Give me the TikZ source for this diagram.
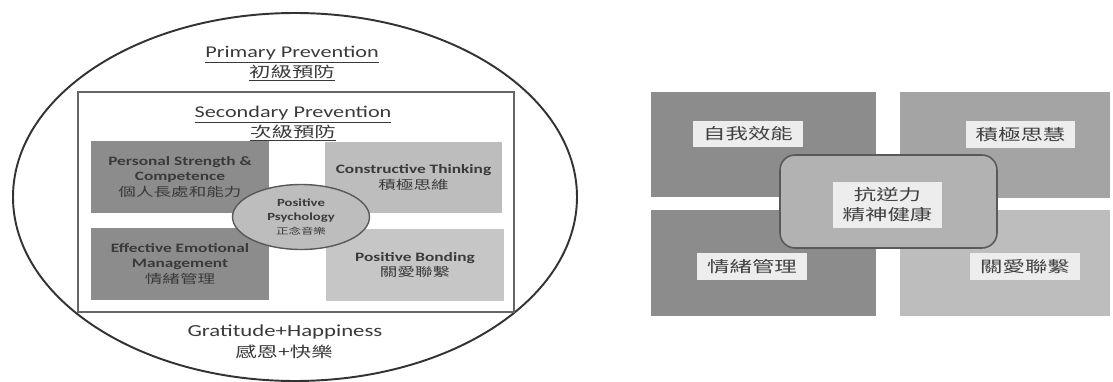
\documentclass[tikz,border=0pt]{standalone}
\usepackage{fontspec}
\setmainfont{Carlito}[FakeStretch=1.35]
\newfontfamily\cjk{Noto Sans CJK TC}[FakeStretch=1.45]
\usetikzlibrary{shapes.geometric}

\definecolor{darkgrey}{HTML}{8C8C8C}
\definecolor{lightgrey}{HTML}{BDBDBD}
\definecolor{midgrey}{HTML}{A4A4A4}
\definecolor{palegrey}{HTML}{C6C6C6}
\definecolor{inkgrey}{HTML}{3A3A3A}

\begin{document}
\begin{tikzpicture}[x=0.02cm, y=-0.02cm,
		title/.style={anchor=base, text=inkgrey, inner sep=0pt, font=\fontsize{9.35}{11}\selectfont},
		titlecjk/.style={title, font=\cjk\fontsize{8.4}{10}\selectfont},
		quad/.style={minimum width=3.56cm, minimum height=1.44cm, inner sep=0pt, align=center, text=inkgrey, font=\bfseries\fontsize{7.3}{8.8}\selectfont},
		block/.style={minimum width=4.5cm, minimum height=2.12cm, inner sep=0pt},
		tag/.style={fill=black!7, minimum width=2.2cm, minimum height=0.53cm, inner sep=0pt, text=black!75, font=\cjk\fontsize{8.8}{11.3}\selectfont}]
		\useasboundingbox (0,0) rectangle (1113,382);

		\draw[line width=1.1pt, black!80] (295,197) ellipse [x radius=282, y radius=184];
		\node[title] (primary) at (292,57) {\underline{Primary Prevention}};
		\node[titlecjk] (primarycjk) at (292,77) {\underline{初級預防}};
		\draw[line width=0.8pt, black!60] (78,92) rectangle (514,312);
		\node[title] (secondary) at (293,117) {\underline{Secondary Prevention}};
		\node[titlecjk] (secondarycjk) at (293,137) {\underline{次級預防}};

		\node[quad, fill=darkgrey] (strength) at (180,177) {Personal Strength \&\\ Competence\\ {\cjk\mdseries\fontsize{6.9}{8.8}\selectfont 個人長處和能力}};
		\node[quad, fill=lightgrey] (thinking) at (413.5,177.5) {Constructive Thinking\\ {\cjk\mdseries\fontsize{6.9}{8.8}\selectfont 積極思維}};
		\node[quad, fill=darkgrey] (emotion) at (180,264) {Effective Emotional\\ Management\\ {\cjk\mdseries\fontsize{6.9}{8.8}\selectfont 情緒管理}};
		\node[quad, fill=palegrey] (bonding) at (415,265) {Positive Bonding\\ {\cjk\mdseries\fontsize{6.9}{8.8}\selectfont 關愛聯繫}};
		\node[ellipse, draw=black!65, line width=0.8pt, fill=lightgrey, minimum width=2.74cm, minimum height=1.3cm, inner sep=0pt, align=center, text=inkgrey, font=\bfseries\fontsize{6.2}{7.9}\selectfont] (psychology) at (301,217) {Positive\\ Psychology\\ {\cjk\mdseries\fontsize{4.9}{7.9}\selectfont 正念音樂}};

		\node[title, font=\fontsize{9.6}{11}\selectfont] (gratitude) at (285,336) {Gratitude+Happiness};
		\node[titlecjk] (gratitudecjk) at (284,357) {感恩+快樂};

		\node[block, fill=darkgrey] (efficacy) at (763.5,144.5) {};
		\node[block, fill=midgrey, minimum width=4.2cm] (wisdom) at (1005,145) {};
		\node[block, fill=darkgrey] (mood) at (763.5,263) {};
		\node[block, fill=lightgrey, minimum width=4.2cm] (care) at (1005,263) {};
		\node[draw=black!65, line width=0.9pt, fill=midgrey!85, rounded corners=0.3cm, minimum width=4.34cm, minimum height=1.86cm] (core) at (888.5,201.5) {};
		\node[tag, minimum width=2.18cm, minimum height=0.92cm, align=center] (resilience) at (887.5,205) {抗逆力\\ 精神健康};

		\node[tag] (efficacytag) at (748,134) {自我效能};
		\node[tag] (wisdomtag) at (1020.5,134.5) {積極思慧};
		\node[tag] (moodtag) at (752,266.5) {情緒管理};
		\node[tag] (caretag) at (1025,266.5) {關愛聯繫};
	\end{tikzpicture}
\end{document}
